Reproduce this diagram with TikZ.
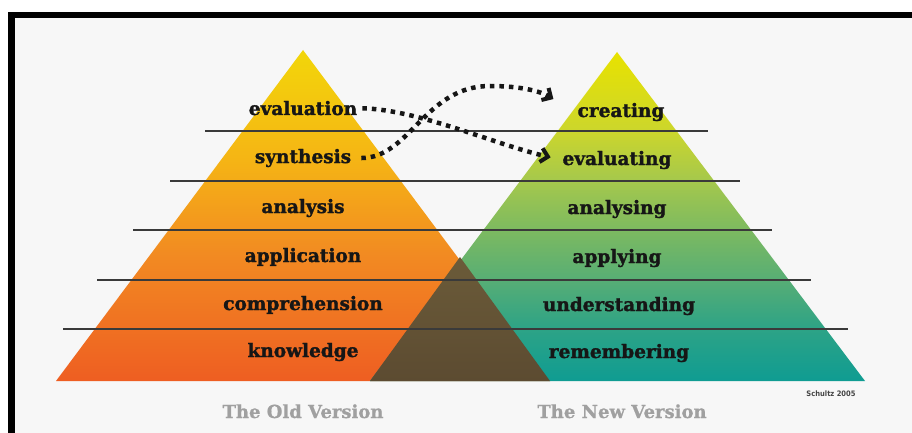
\documentclass[tikz,border=0pt]{standalone}
\usepackage{fontspec}
\setmainfont{DejaVu Serif}[BoldFeatures={FakeBold=1.6}]
\newfontfamily\titlefont{DejaVu Serif}[BoldFeatures={FakeBold=0.8}]
\newfontfamily\creditfont{DejaVu Sans Condensed}
\usetikzlibrary{arrows.meta}

% palette
\definecolor{pagebg}{HTML}{F7F7F7}
\definecolor{oldA}{HTML}{EE5E22}
\definecolor{oldB}{HTML}{F28A22}
\definecolor{oldC}{HTML}{F5B614}
\definecolor{oldD}{HTML}{F2D60A}
\definecolor{newA}{HTML}{0F9C92}
\definecolor{newB}{HTML}{2DA386}
\definecolor{newC}{HTML}{55AD76}
\definecolor{newD}{HTML}{7DBA60}
\definecolor{newE}{HTML}{A5C84C}
\definecolor{newF}{HTML}{CCD62C}
\definecolor{newG}{HTML}{E8E200}
\definecolor{mixtop}{HTML}{6B5B39}
\definecolor{mixbot}{HTML}{5C4B31}
\definecolor{ink}{HTML}{161616}
\definecolor{rule}{HTML}{3A3A3A}
\definecolor{titlegray}{HTML}{A0A0A0}

% vertical colour ramps (path box = 25bp..75bp)
\pgfdeclareverticalshading{oldramp}{100bp}{color(0bp)=(oldA); color(25bp)=(oldA); color(44bp)=(oldB); color(59bp)=(oldC); color(75bp)=(oldD); color(100bp)=(oldD)}
\pgfdeclareverticalshading{newramp}{100bp}{color(0bp)=(newA); color(25bp)=(newA); color(33bp)=(newB); color(40bp)=(newC); color(48bp)=(newD); color(55.5bp)=(newE); color(63bp)=(newF); color(75bp)=(newG); color(100bp)=(newG)}

\tikzset{
  lbl/.style={font=\fontsize{18.5}{20}\selectfont\bfseries, text=ink, inner sep=0pt, anchor=base},
  title/.style={font=\titlefont\fontsize{18}{20}\selectfont\bfseries, text=titlegray, inner sep=0pt, anchor=base},
  credit/.style={font=\creditfont\fontsize{7.5}{8}\selectfont\bfseries, text=ink!80, inner sep=0pt, anchor=base},
  levelline/.style={draw=rule, line width=1.4pt},
  dotarrow/.style={draw=ink, line width=4.5pt, dash pattern=on 4.5pt off 5pt,
    -{Straight Barb[length=7pt,width=14pt,line width=4pt]}}
}

\begin{document}
\begin{tikzpicture}[x=1pt,y=-1pt]
  \useasboundingbox (0,0) rectangle (912,433);

  % frame
  \fill[white] (0,0) rectangle (912,433);
  \fill[pagebg] (15,18) rectangle (912,433);
  \fill[black] (8,12) rectangle (912,18);
  \fill[black] (8,12) rectangle (15,433);

  % the two pyramids and their overlap
  \shade[shading=oldramp] (56,381) -- (303,50) -- (550,381) -- cycle;
  \shade[shading=newramp] (370,381) -- (617,52) -- (865,381) -- cycle;
  \shade[top color=mixtop, bottom color=mixbot] (370,381) -- (460,257) -- (550,381) -- cycle;

  % level dividers
  \draw[levelline] (205,131) -- (708,131);
  \draw[levelline] (170,181) -- (740,181);
  \draw[levelline] (133,230) -- (772,230);
  \draw[levelline] (97,280) -- (811,280);
  \draw[levelline] (63,329) -- (848,329);

  % old version labels
  \node[lbl] (evaluation)    at (303,115) {evaluation};
  \node[lbl] (synthesis)     at (303,163) {synthesis};
  \node[lbl] (analysis)      at (303,213) {analysis};
  \node[lbl] (application)   at (303,262) {application};
  \node[lbl] (comprehension) at (303,310) {comprehension};
  \node[lbl] (knowledge)     at (303,357) {knowledge};

  % new version labels
  \node[lbl] (creating)      at (621,117) {creating};
  \node[lbl] (evaluating)    at (617,165) {evaluating};
  \node[lbl] (analysing)     at (617,214) {analysing};
  \node[lbl] (applying)      at (617,263) {applying};
  \node[lbl] (understanding) at (619,311) {understanding};
  \node[lbl] (remembering)   at (619,358) {remembering};

  % mapping arrows
  \draw[dotarrow, shorten <=5pt, shorten >=12pt]
    (evaluation.east) .. controls (420,110) and (493,144) .. (evaluating.west);
  \draw[dotarrow, shorten <=10pt]
    (synthesis.east) .. controls (410,158) and (425,86) .. (490,86)
    .. controls (520,86) and (540,91) .. ([xshift=-24pt,yshift=13pt]creating.west);

  % captions
  \node[title] (oldtitle) at (303,418) {The Old Version};
  \node[title] (newtitle) at (622,418) {The New Version};
  \node[credit] (credit) at (831,396) {Schultz 2005};
\end{tikzpicture}
\end{document}
